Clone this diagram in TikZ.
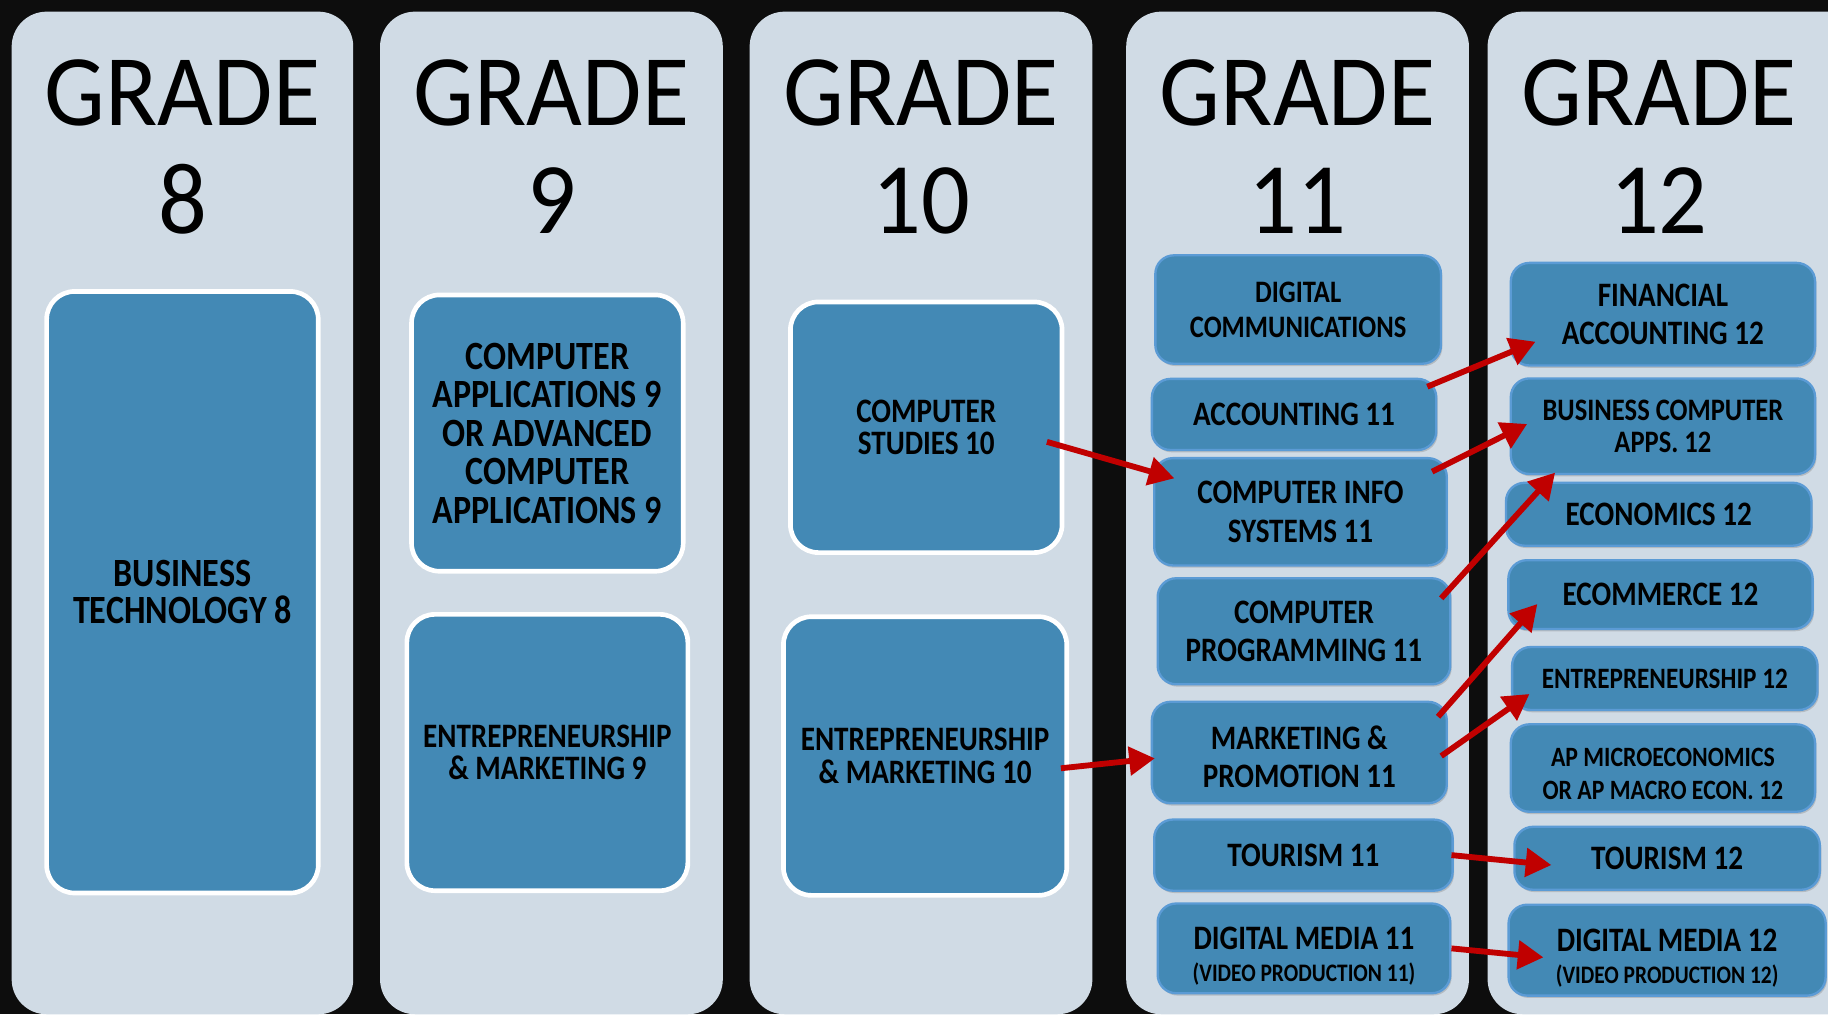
\documentclass[tikz,border=0pt]{standalone}
\usepackage{fontspec}
\setmainfont{Carlito}[FakeStretch=0.85]
\newfontfamily\headfont{Carlito}[FakeStretch=0.95]
\usetikzlibrary{arrows.meta,calc,shadows}
\definecolor{bgc}{HTML}{0D0D0D}
\definecolor{panelc}{HTML}{D0DBE5}
\definecolor{boxc}{HTML}{4389B5}
\definecolor{edgec}{HTML}{5B9BD5}
\definecolor{arrc}{HTML}{C00000}
\newcommand\fsz[2]{\fontsize{#1}{#2}\selectfont}
\begin{document}
\begin{tikzpicture}[x=0.5pt,y=-0.5pt,
  panel/.style={fill=panelc, rounded corners=15pt},
  head/.style={anchor=base, inner sep=0pt, font=\headfont\fsz{43.5}{44}},
  bigbox/.style={draw=white, line width=2pt, fill=boxc, rounded corners=12pt, align=center, inner sep=2pt},
  smallbox/.style={draw=edgec, line width=1pt, fill=boxc, rounded corners=8pt, align=center, inner sep=1pt,
    drop shadow={shadow xshift=0.6pt, shadow yshift=-1pt, opacity=0.35}},
  arr/.style={draw=arrc, line width=2.5pt, -{Triangle[length=11pt,width=12pt]}}
]
\useasboundingbox (0,0) rectangle (1568,870);
\clip (0,0) rectangle (1568,870);
\fill[bgc] (0,0) rectangle (1568,870);

% panels
\path[panel] (10,10) rectangle (303,870);
\path[panel] (326,10) rectangle (620,870);
\path[panel] (643,10) rectangle (937,870);
\path[panel] (966,10) rectangle (1260,870);
\path[panel] (1276,10) rectangle (1610,870);

% headings
\node[head] (h8a) at (156.5,108) {GRADE};
\node[head] (h8b) at (156.5,200) {8};
\node[head] (h9a) at (473,108) {GRADE};
\node[head] (h9b) at (473,200) {9};
\node[head] (h10a) at (790,108) {GRADE};
\node[head] (h10b) at (790,200) {10};
\node[head] (h11a) at (1113,108) {GRADE};
\node[head] (h11b) at (1113,200) {11};
\node[head] (h12a) at (1423,108) {GRADE};
\node[head] (h12b) at (1423,200) {12};

% grade 8-10 boxes
\node[bigbox, minimum width=116.5pt, minimum height=258pt, font=\bfseries\fsz{17.2}{16}] (bt8) at (156.5,508) {BUSINESS\\TECHNOLOGY 8};
\node[bigbox, minimum width=116.5pt, minimum height=118.5pt, font=\bfseries\fsz{17.2}{16.5}] (ca9) at (469.5,371.5) {COMPUTER\\APPLICATIONS 9\\OR ADVANCED\\COMPUTER\\APPLICATIONS 9};
\node[bigbox, minimum width=120.5pt, minimum height=118.5pt, font=\bfseries\fsz{14.7}{14}] (em9) at (469.5,645.5) {ENTREPRENEURSHIP\\\& MARKETING 9};
\node[bigbox, minimum width=116.5pt, minimum height=107.5pt, font=\bfseries\fsz{14.7}{14}] (cs10) at (794.5,366.5) {COMPUTER\\STUDIES 10};
\node[bigbox, minimum width=121.5pt, minimum height=119.5pt, font=\bfseries\fsz{14.7}{14}] (em10) at (793.5,648.5) {ENTREPRENEURSHIP\\\& MARKETING 10};

% grade 11 boxes
\node[smallbox, minimum width=122.5pt, minimum height=46.5pt, font=\bfseries\fsz{13.4}{15}] (dc11) at (1113.5,265.5) {DIGITAL\\COMMUNICATIONS};
\node[smallbox, minimum width=122pt, minimum height=30.5pt, font=\bfseries\fsz{14.7}{16}] (acc11) at (1110,355.5) {ACCOUNTING 11};
\node[smallbox, minimum width=125.5pt, minimum height=46pt, font=\bfseries\fsz{14.7}{17}] (cis11) at (1115.5,439) {COMPUTER INFO\\SYSTEMS 11};
\node[smallbox, minimum width=125.5pt, minimum height=45.5pt, font=\bfseries\fsz{14.7}{16}] (cp11) at (1118.5,541.5) {COMPUTER\\PROGRAMMING 11};
\node[smallbox, minimum width=126.5pt, minimum height=43.5pt, font=\bfseries\fsz{14.7}{16.5}] (mp11) at (1114.5,645.5) {\rule{0pt}{14pt}MARKETING \&\\PROMOTION 11};
\node[smallbox, minimum width=128pt, minimum height=30.5pt, font=\bfseries\fsz{14.7}{16}] (t11) at (1118,733.5) {TOURISM 11};
\node[smallbox, minimum width=125.5pt, minimum height=38.5pt, font=\bfseries\fsz{14.7}{13.5}] (dm11) at (1118.5,813.5) {\rule{0pt}{16.5pt}DIGITAL MEDIA 11\\{\fsz{10.8}{13.5}(VIDEO PRODUCTION 11)}};

% grade 12 boxes
\node[smallbox, minimum width=130.5pt, minimum height=44pt, font=\bfseries\fsz{14.7}{16.5}] (fa12) at (1426.4,269.5) {FINANCIAL\\ACCOUNTING 12};
\node[smallbox, minimum width=130.5pt, minimum height=41pt, font=\bfseries\fsz{13.4}{14}] (bca12) at (1426.4,365.6) {BUSINESS COMPUTER\\APPS. 12};
\node[smallbox, minimum width=131pt, minimum height=27pt, font=\bfseries\fsz{14.7}{16}] (econ12) at (1422.8,441.1) {ECONOMICS 12};
\node[smallbox, minimum width=130.5pt, minimum height=29.5pt, font=\bfseries\fsz{14.7}{16}] (ecom12) at (1424.3,510) {ECOMMERCE 12};
\node[smallbox, minimum width=131pt, minimum height=27pt, font=\bfseries\fsz{12.7}{14}] (ent12) at (1428,582) {ENTREPRENEURSHIP 12};
\node[smallbox, minimum width=130.5pt, minimum height=37.5pt, font=\bfseries\fsz{12}{14}] (ap12) at (1426.4,658.8) {\rule{0pt}{13pt}AP MICROECONOMICS\\OR AP MACRO ECON. 12};
\node[smallbox, minimum width=131pt, minimum height=27pt, font=\bfseries\fsz{14.7}{16}] (tour12) at (1430,736.2) {TOURISM 12};
\node[smallbox, minimum width=136pt, minimum height=39pt, font=\bfseries\fsz{14.7}{13.5}] (dm12) at (1430,815) {\rule{0pt}{16.5pt}DIGITAL MEDIA 12\\{\fsz{10.8}{13.5}(VIDEO PRODUCTION 12)}};

% arrows
\draw[arr] ($(cs10.center)+(103.5,12.5)$) -- ($(cis11.center)+(-108.2,-28.7)$);
\draw[arr] ($(em10.center)+(116.5,10.5)$) -- ($(mp11.center)+(-123.9,5)$);
\draw[arr] ($(acc11.center)+(114.3,-23.8)$) -- ($(fa12.center)+(-109.3,23.6)$);
\draw[arr] ($(cis11.center)+(112.9,-34.4)$) -- ($(bca12.center)+(-116.5,-1.9)$);
\draw[arr] ($(cp11.center)+(117.7,-28.3)$) -- ($(bca12.center)+(-92.5,39.8)$);
\draw[arr] ($(mp11.center)+(119,-30.7)$) -- ($(ecom12.center)+(-105.6,8.1)$);
\draw[arr] ($(mp11.center)+(121.7,3)$) -- ($(ent12.center)+(-116.1,13.3)$);
\draw[arr] ($(t11.center)+(127,0)$) -- ($(tour12.center)+(-99.3,5.8)$);
\draw[arr] ($(dm11.center)+(126.5,0)$) -- ($(dm12.center)+(-106.1,6.2)$);
\end{tikzpicture}
\end{document}
